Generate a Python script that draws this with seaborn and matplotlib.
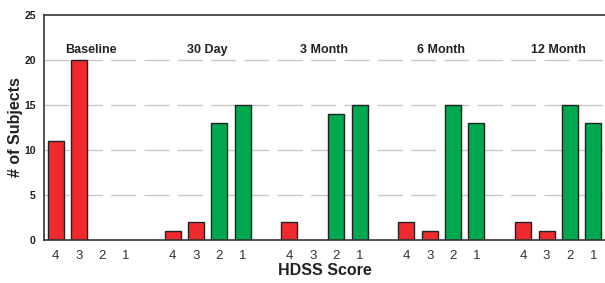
import matplotlib
matplotlib.use("Agg")
import matplotlib.pyplot as plt
import seaborn as sns
import pandas as pd
import numpy as np

groups = ["Baseline", "30 Day", "3 Month", "6 Month", "12 Month"]
scores = ["4", "3", "2", "1"]
baseline = [11, 20, 0, 0]
day30 = [1, 2, 13, 15]
month3 = [2, 0, 14, 15]
month6 = [2, 1, 15, 13]
month12 = [2, 1, 15, 13]
series = [baseline, day30, month3, month6, month12]
red = "#EE2A2F"
green = "#00A84F"

rows = []
for gi, (g, vals) in enumerate(zip(groups, series)):
    for si, (s, v) in enumerate(zip(scores, vals)):
        rows.append({"group": g, "score": s, "slot": gi * 5 + si, "count": v,
                     "kind": "high" if s in ("4", "3") else "low"})
df = pd.DataFrame(rows)

sns.set_style("white")
plt.rcParams["font.family"] = ["Liberation Sans", "DejaVu Sans"]

fig = plt.figure(figsize=(6.05, 2.83), dpi=100)
ax = fig.add_axes([44 / 605, 1 - 240 / 283, 1 - 44 / 605, (240 - 15) / 283])

for yv in [5, 10, 15, 20]:
    ax.axhline(yv, color="#c8c8c8", lw=1.0, ls=(0, (18, 6)), zorder=0)

sns.barplot(data=df[df["count"] > 0], x="slot", y="count", hue="kind",
            palette={"high": red, "low": green}, native_scale=True, dodge=False,
            width=0.68, edgecolor="#222222", linewidth=1.0, legend=False,
            saturation=1, ax=ax, zorder=2)

ax.set_xlim(-0.5, 23.5)
ax.set_ylim(0, 25)
ax.set_yticks([0, 5, 10, 15, 20, 25])
ax.set_yticklabels([str(v) for v in [0, 5, 10, 15, 20, 25]], fontsize=7.5,
                   fontweight="bold", color="#222222")
ax.set_xticks(df["slot"].tolist())
ax.set_xticklabels(df["score"].tolist(), fontsize=9.5, color="#333333")
ax.set_xticks(np.arange(-0.5, 24, 1.0), minor=True)
ax.tick_params(axis="x", which="major", length=0, pad=7)
ax.tick_params(axis="x", which="minor", length=4, width=1, color="#333333",
               direction="out")
ax.tick_params(axis="y", length=4, width=1, color="#333333", direction="out", pad=2)

for sp in ["left", "bottom", "top"]:
    ax.spines[sp].set_visible(True)
    ax.spines[sp].set_color("#333333")
    ax.spines[sp].set_linewidth(1.2)
ax.spines["right"].set_visible(False)

for gi, g in enumerate(groups):
    ax.text(gi * 5 + 1.5, 20.4, g, ha="center", va="bottom", fontsize=9,
            fontweight="bold", color="#222222")

ax.set_xlabel("HDSS Score", fontsize=11.5, fontweight="bold", color="#222222", labelpad=1)
ax.set_ylabel("# of Subjects", fontsize=11.5, fontweight="bold", color="#222222")
ax.yaxis.set_label_coords(-0.038, 0.5)

fig.savefig("out.png", dpi=100)
